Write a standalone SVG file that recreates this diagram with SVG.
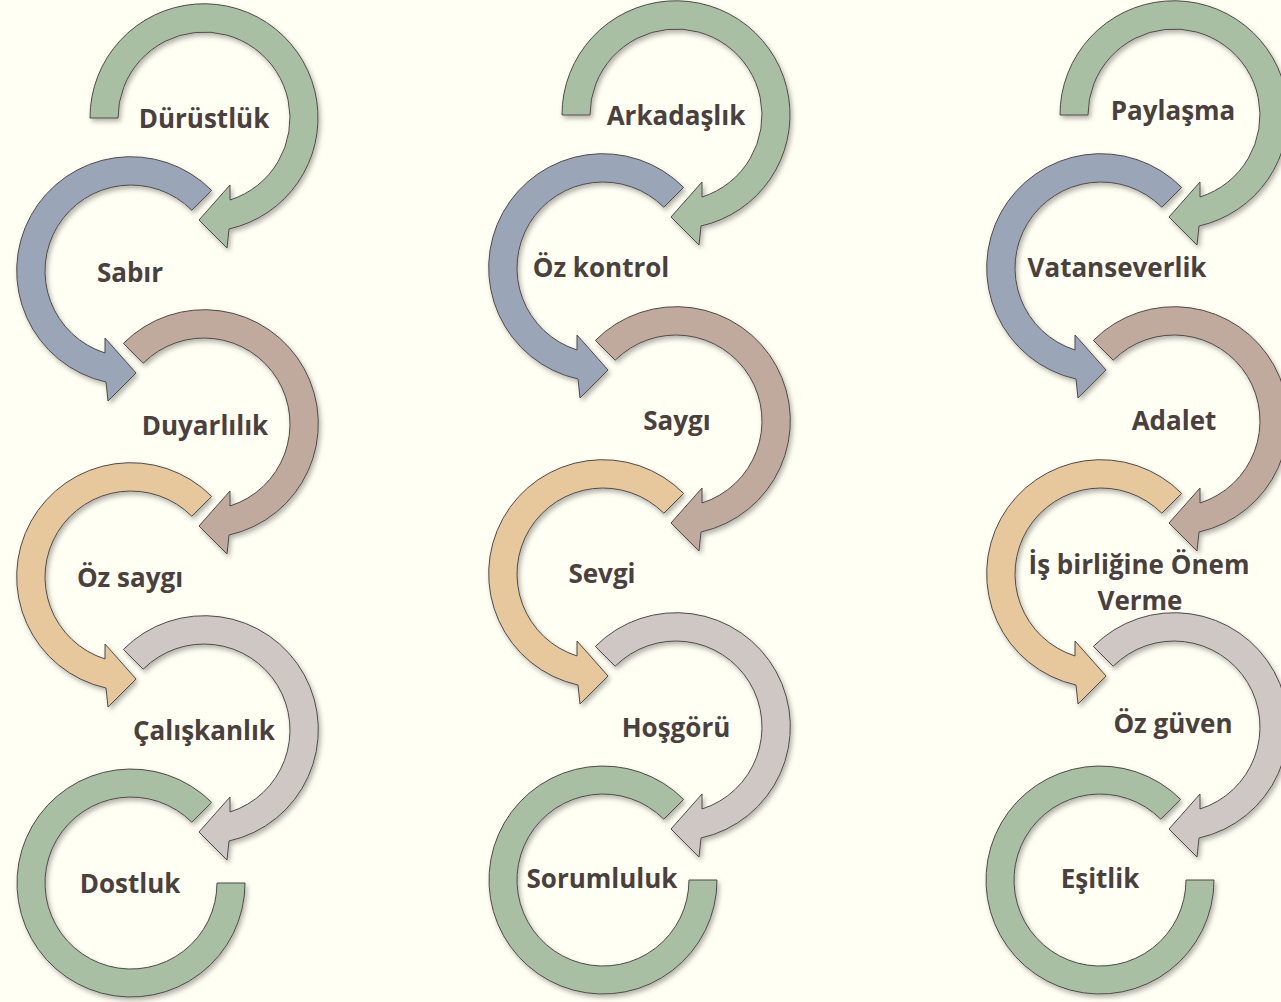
<svg xmlns="http://www.w3.org/2000/svg" xmlns:xlink="http://www.w3.org/1999/xlink" width="1281" height="1002" viewBox="0 0 1281 1002">
<style>
.lbl{font-family:"Open Sans","Liberation Sans",sans-serif;font-weight:700;font-size:26px;fill:#4a403e;text-anchor:middle}
.ring{stroke:#4f4b4a;stroke-width:1}
.g{fill:#a8bfa3}.b{fill:#9ba5b8}.br{fill:#bfaa9d}.o{fill:#e7c89d}.gy{fill:#cec7c4}
</style>
<defs>
<filter id="sh" x="-20%" y="-20%" width="140%" height="140%">
<feDropShadow dx="2" dy="3" stdDeviation="2.5" flood-color="#000" flood-opacity="0.3"/>
</filter>
<path id="arrFirst" d="M -114 0 L -86 0 A 86 86 0 1 1 26 82 L 26 67 L -5 102 L 23 130 L 25 111 A 114 114 0 1 0 -114 0 Z"/>
<path id="arrMid" d="M -80.6 -80.6 L -60.8 -60.8 A 86 86 0 1 1 26 82 L 26 67 L -5 102 L 23 130 L 25 111 A 114 114 0 1 0 -80.6 -80.6 Z"/>
<path id="arrLast" d="M 80.6 -80.6 L 60.8 -60.8 A 86 86 0 1 0 86 0 L 114 0 A 114 114 0 1 1 80.6 -80.6 Z"/>
</defs>
<rect width="1281" height="1002" fill="#fffff3"/>
<g id="connectors"/>

<!-- Column 1 -->
<g id="n-dostluk" filter="url(#sh)"><use xlink:href="#arrLast" class="ring g" transform="translate(131,883)"/></g>
<g id="n-caliskanlik" filter="url(#sh)"><use xlink:href="#arrMid" class="ring gy" transform="translate(204,730)"/></g>
<g id="n-ozsaygi" filter="url(#sh)"><use xlink:href="#arrMid" class="ring o" transform="translate(131,577) scale(-1,1)"/></g>
<g id="n-duyarlilik" filter="url(#sh)"><use xlink:href="#arrMid" class="ring br" transform="translate(204,424)"/></g>
<g id="n-sabir" filter="url(#sh)"><use xlink:href="#arrMid" class="ring b" transform="translate(131,271) scale(-1,1)"/></g>
<g id="n-durustluk" filter="url(#sh)"><use xlink:href="#arrFirst" class="ring g" transform="translate(204,118)"/></g>

<!-- Column 2 -->
<g id="n-sorumluluk" filter="url(#sh)"><use xlink:href="#arrLast" class="ring g" transform="translate(603,880)"/></g>
<g id="n-hosgoru" filter="url(#sh)"><use xlink:href="#arrMid" class="ring gy" transform="translate(676,727)"/></g>
<g id="n-sevgi" filter="url(#sh)"><use xlink:href="#arrMid" class="ring o" transform="translate(603,574) scale(-1,1)"/></g>
<g id="n-saygi" filter="url(#sh)"><use xlink:href="#arrMid" class="ring br" transform="translate(676,421)"/></g>
<g id="n-ozkontrol" filter="url(#sh)"><use xlink:href="#arrMid" class="ring b" transform="translate(603,268) scale(-1,1)"/></g>
<g id="n-arkadaslik" filter="url(#sh)"><use xlink:href="#arrFirst" class="ring g" transform="translate(676,115)"/></g>

<!-- Column 3 -->
<g id="n-esitlik" filter="url(#sh)"><use xlink:href="#arrLast" class="ring g" transform="translate(1100,880)"/></g>
<g id="n-ozguven" filter="url(#sh)"><use xlink:href="#arrMid" class="ring gy" transform="translate(1174,727)"/></g>
<g id="n-isbirligi" filter="url(#sh)"><use xlink:href="#arrMid" class="ring o" transform="translate(1101,574) scale(-1,1)"/></g>
<g id="n-adalet" filter="url(#sh)"><use xlink:href="#arrMid" class="ring br" transform="translate(1174,421)"/></g>
<g id="n-vatanseverlik" filter="url(#sh)"><use xlink:href="#arrMid" class="ring b" transform="translate(1101,268) scale(-1,1)"/></g>
<g id="n-paylasma" filter="url(#sh)"><use xlink:href="#arrFirst" class="ring g" transform="translate(1174,115)"/></g>

<g id="labels">
<text class="lbl" x="204" y="128">Dürüstlük</text>
<text class="lbl" x="130" y="282">Sabır</text>
<text class="lbl" x="205" y="435">Duyarlılık</text>
<text class="lbl" x="130" y="587">Öz saygı</text>
<text class="lbl" x="204" y="740">Çalışkanlık</text>
<text class="lbl" x="130" y="893">Dostluk</text>
<text class="lbl" x="676" y="125">Arkadaşlık</text>
<text class="lbl" x="601" y="277">Öz kontrol</text>
<text class="lbl" x="677" y="430">Saygı</text>
<text class="lbl" x="602" y="583">Sevgi</text>
<text class="lbl" x="676" y="737">Hoşgörü</text>
<text class="lbl" x="602" y="888">Sorumluluk</text>
<text class="lbl" x="1173" y="120">Paylaşma</text>
<text class="lbl" x="1117" y="277">Vatanseverlik</text>
<text class="lbl" x="1174" y="430">Adalet</text>
<text class="lbl" x="1139" y="574">İş birliğine Önem</text>
<text class="lbl" x="1140" y="610">Verme</text>
<text class="lbl" x="1173" y="733">Öz güven</text>
<text class="lbl" x="1100" y="888">Eşitlik</text>
</g>
</svg>
